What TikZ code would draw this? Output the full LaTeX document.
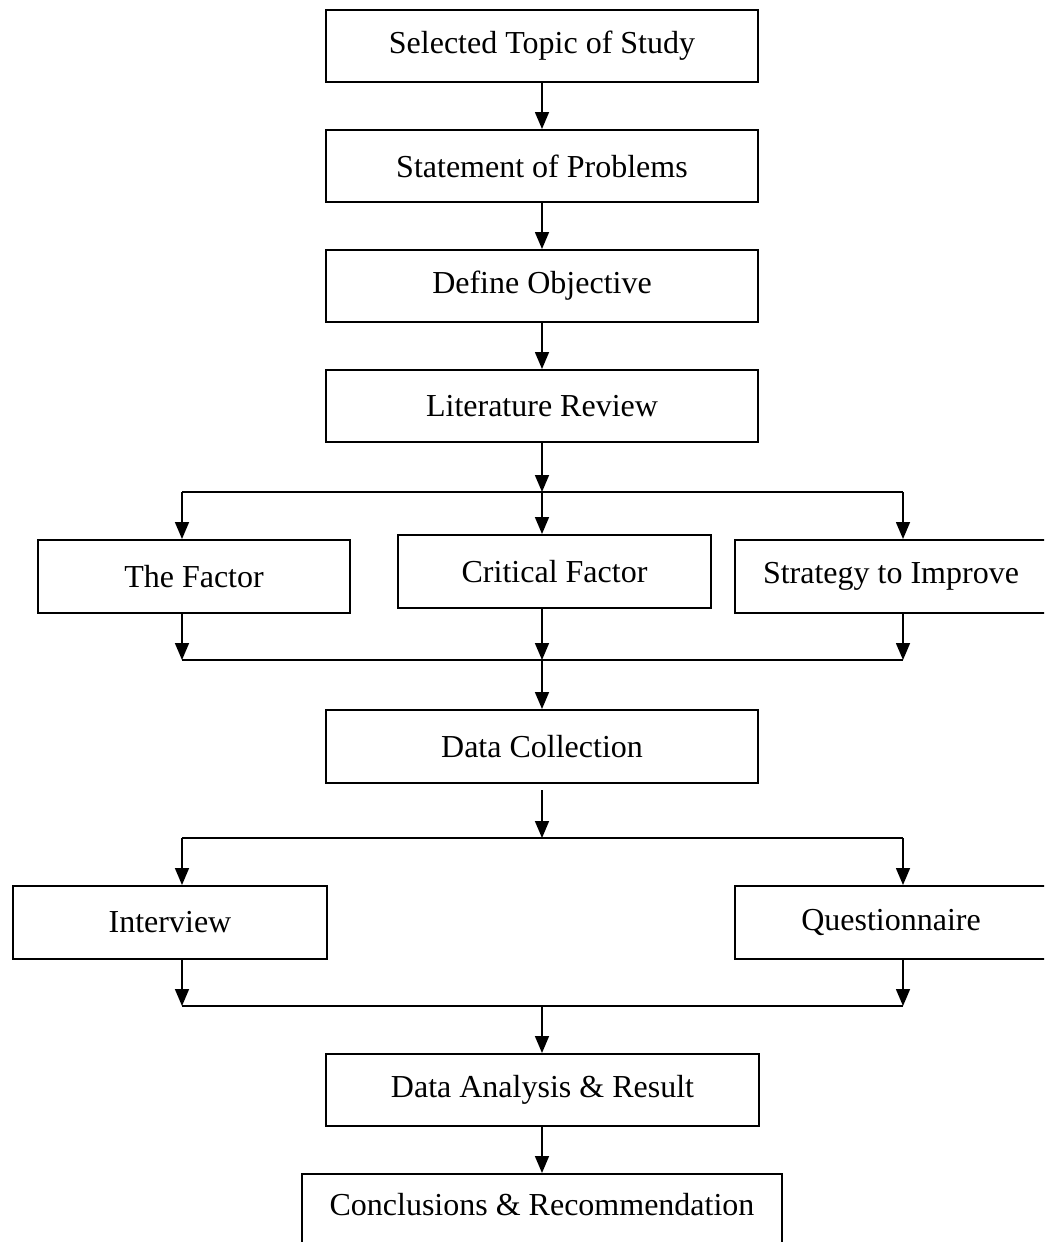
\documentclass[tikz,border=0pt]{standalone}
\usepackage{fontspec}
\setmainfont{Liberation Serif}
\usetikzlibrary{arrows.meta}
\begin{document}
\begin{tikzpicture}[x=1pt,y=-1pt,
  box/.style={draw=black, line width=2pt, rectangle, inner sep=0pt, font=\fontsize{32}{38}\selectfont},
  flow/.style={line width=1.6pt, -{Triangle[length=17pt,width=14pt]}},
  bar/.style={line width=2pt}]
\clip (0,0) rectangle (1044,1242);
\fill[white] (0,0) rectangle (1044,1242);
% main column
\node[box, minimum width=432pt, minimum height=72pt] (n1) at (542,46) {Selected Topic of Study};
\node[box, minimum width=432pt, minimum height=72pt] (n2) at (542,166) {Statement of Problems};
\node[box, minimum width=432pt, minimum height=72pt] (n3) at (542,286) {Define Objective};
\node[box, minimum width=432pt, minimum height=72pt] (n4) at (542,406) {Literature Review};
% factors
\node[box, minimum width=312pt, minimum height=73pt] (f1) at (194,576.5) {The Factor};
\node[box, minimum width=313pt, minimum height=73pt] (f2) at (554.5,571.5) {Critical Factor};
\node[box, minimum width=312pt, minimum height=73pt] (f3) at (891,576.5) {Strategy to Improve};
\node[box, minimum width=432pt, minimum height=73pt] (dc) at (542,746.5) {Data Collection};
% methods
\node[box, minimum width=314pt, minimum height=73pt] (i1) at (170,922.5) {Interview};
\node[box, minimum width=312pt, minimum height=73pt] (i2) at (891,922.5) {Questionnaire};
\node[box, minimum width=433pt, minimum height=72pt] (da) at (542.5,1090) {Data Analysis \& Result};
\node[box, minimum width=480pt, minimum height=100pt, text depth=0pt] (cr) at (542,1224) {};
\node[font=\fontsize{32}{38}\selectfont, anchor=base] (crt) at (542,1215) {Conclusions \& Recommendation};
% junction coordinates
\coordinate (aL) at (182,492);
\coordinate (aM) at (542,492);
\coordinate (aR) at (903,492);
\coordinate (bL) at (182,660);
\coordinate (bM) at (542,660);
\coordinate (bR) at (903,660);
\coordinate (cS) at (542,790);
\coordinate (cL) at (182,838);
\coordinate (cM) at (542,838);
\coordinate (cR) at (903,838);
\coordinate (dL) at (182,1006);
\coordinate (dM) at (542,1006);
\coordinate (dR) at (903,1006);
% connectors
\draw[flow] (n1.south) -- (n2.north);
\draw[flow] (n2.south) -- (n3.north);
\draw[flow] (n3.south) -- (n4.north);
\draw[flow] (n4.south) -- (aM);
\draw[bar] (aL) -- (aR);
\draw[flow] (aL) -- (aL |- f1.north);
\draw[flow] (aM) -- (aM |- f2.north);
\draw[flow] (aR) -- (aR |- f3.north);
\draw[flow] (bL |- f1.south) -- (bL);
\draw[flow] (bM |- f2.south) -- (bM);
\draw[flow] (bR |- f3.south) -- (bR);
\draw[bar] (bL) -- (bR);
\draw[flow] (bM) -- (dc.north -| bM);
\draw[flow] (cS) -- (cM);
\draw[bar] (cL) -- (cR);
\draw[flow] (cL) -- (cL |- i1.north);
\draw[flow] (cR) -- (cR |- i2.north);
\draw[flow] (dL |- i1.south) -- (dL);
\draw[flow] (dR |- i2.south) -- (dR);
\draw[bar] (dL) -- (dR);
\draw[flow] (dM) -- (da.north -| dM);
\draw[flow] (da.south -| dM) -- (cr.north -| dM);
\end{tikzpicture}
\end{document}
